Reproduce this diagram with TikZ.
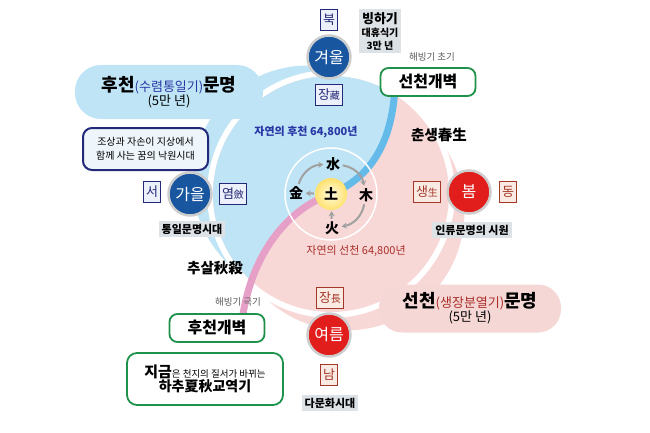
\documentclass[tikz,border=0pt]{standalone}
\usepackage{fontspec}
\setmainfont{Noto Sans CJK KR}
\usepackage{tikz}
\usetikzlibrary{arrows.meta}
\usepackage{xcolor}

\definecolor{skyfill}{RGB}{191,228,245}
\definecolor{rosefill}{RGB}{247,216,214}
\definecolor{skyline}{RGB}{100,186,232}
\definecolor{roseline}{RGB}{230,160,200}
\definecolor{seablue}{RGB}{24,86,160}
\definecolor{fired}{RGB}{226,30,28}
\definecolor{navy}{RGB}{35,40,120}
\definecolor{textblue}{RGB}{40,55,165}
\definecolor{textred}{RGB}{170,45,40}
\definecolor{boxred}{RGB}{165,55,40}
\definecolor{dirbg}{RGB}{236,240,250}
\definecolor{redbg}{RGB}{250,234,228}
\definecolor{labgray}{RGB}{221,226,231}
\definecolor{frgreen}{RGB}{30,145,75}
\definecolor{rosebox}{RGB}{245,216,214}
\definecolor{paleblue}{RGB}{238,246,252}
\definecolor{ringgray}{RGB}{205,205,205}
\definecolor{cycgray}{RGB}{160,160,160}
\definecolor{glowin}{RGB}{255,252,225}
\definecolor{glowout}{RGB}{255,225,110}
\definecolor{notegray}{RGB}{90,90,90}

\newcommand{\kfs}[2]{\fontsize{#1}{#2}\selectfont}

\begin{document}
\begin{tikzpicture}[x=1pt, y=1pt,
    seasonnode/.style={circle, draw=ringgray, line width=2.5pt, minimum size=43pt, inner sep=0pt, text=white, font=\kfs{16}{16}},
    dirbluebox/.style={draw=navy, fill=dirbg, text=navy, line width=0.9pt, inner sep=2.5pt, minimum height=21pt, font=\kfs{13}{13}},
    dirredbox/.style={draw=boxred, fill=redbg, text=boxred, line width=0.9pt, inner sep=2.5pt, minimum height=21pt, font=\kfs{13}{13}},
    graytag/.style={fill=labgray, inner sep=3pt, font=\bfseries\kfs{11}{13}},
    gatebox/.style={draw=frgreen, line width=1.8pt, rounded corners=8pt, fill=white, minimum width=95pt, minimum height=28pt, font=\bfseries\kfs{16}{16}},
    elemnode/.style={font=\bfseries\kfs{14}{14}, inner sep=1.5pt},
    cycarrow/.style={draw=cycgray, line width=2pt, -{Stealth[length=5pt, width=6pt]}, shorten <=1pt, shorten >=1pt},
    thawtext/.style={text=notegray, font=\kfs{9.5}{11}}]

    \useasboundingbox (0,0) rectangle (650,432);
    \coordinate (C) at (331,238);

    % Outer rings (crescents)
    \begin{scope}
        \clip (C) ++(150:27pt) circle (115pt);
        \fill[skyfill, even odd rule] (C) circle (150pt) (C) circle (124pt);
    \end{scope}
    \begin{scope}
        \clip (C) ++(310:24pt) circle (118pt);
        \fill[rosefill, even odd rule] (C) circle (150pt) (C) circle (124pt);
    \end{scope}

    % Inner disk, split by the S line
    \fill[rosefill] (C) circle (118pt);
    \begin{scope}
        \clip (C) circle (118pt);
        \fill[skyfill] (395,346) .. controls (392,282) and (365,252) .. (C)
            .. controls (295,226) and (255,188) .. (243,118)
            -- (200,0) -- (0,0) -- (0,432) -- (395,432) -- cycle;
    \end{scope}
    \draw[skyline, line width=7pt] (395,346) .. controls (392,282) and (365,252) .. (C);
    \draw[roseline, line width=7pt] (C) .. controls (295,226) and (255,188) .. (243,118);
    \draw[white, line width=1.5pt] (C) circle (46pt);

    % Seasons
    \node[seasonnode, fill=seablue] (winter) at (329,375) {겨울};
    \node[seasonnode, fill=seablue] (autumn) at (190,238) {가을};
    \node[seasonnode, fill=fired] (spring) at (469,240) {봄};
    \node[seasonnode, fill=fired] (summer) at (329,97) {여름};

    % Directions and season marks
    \node[dirbluebox] (north) at (329,412) {북};
    \node[dirbluebox] (west) at (152,240) {서};
    \node[dirredbox] (east) at (508,240) {동};
    \node[dirredbox] (south) at (329,57) {남};
    \node[dirbluebox] (store) at (329,337) {장{\kfs{10}{10}藏}};
    \node[dirbluebox] (gather) at (233,238) {염{\kfs{10}{10}斂}};
    \node[dirredbox] (birth) at (427,240) {생{\kfs{10}{10}生}};
    \node[dirredbox] (grow) at (330,134) {장{\kfs{10}{10}長}};

    % Labels, top half
    \node[graytag, align=center, inner sep=3pt, font=\bfseries\kfs{10}{13}] (ice) at (380,401) {{\kfs{13}{15}빙하기}\\대휴식기\\3만 년};
    \node[thawtext] (thawearly) at (432,375) {해빙기 초기};
    \node[gatebox] (firstgate) at (428,350) {선천개벽};
    \node[rounded corners=26pt, fill=skyfill, minimum width=188pt, minimum height=54pt, align=center] (laterciv) at (169,340)
        {{\bfseries\kfs{18}{21}후천}{\kfs{13}{15}\color{textblue}(수렴통일기)}{\bfseries\kfs{18}{21}문명}\\{\kfs{13}{15}(5만 년)}};
    \node[draw=navy, line width=2pt, rounded corners=9pt, fill=paleblue, minimum width=125pt, minimum height=42pt, align=center, font=\kfs{10}{14}] (paradise) at (145.5,283)
        {조상과 자손이 지상에서\\함께 사는 꿈의 낙원시대};
    \node[graytag] (unify) at (192,203) {통일문명시대};
    \node[text=textblue, font=\bfseries\kfs{11}{13}] (natlater) at (306,300) {자연의 후천 64,800년};
    \node[font=\bfseries\kfs{14.5}{16}] (springlife) at (439,297) {춘생春生};
    \node[graytag] (origin) at (472,202) {인류문명의 시원};

    % Labels, bottom half
    \node[text=textred, font=\kfs{11}{13}] (natfirst) at (356,181) {자연의 선천 64,800년};
    \node[font=\bfseries\kfs{14.5}{16}] (autumnkill) at (215,164) {추살秋殺};
    \node[thawtext] (thawpeak) at (238,130) {해빙기 극기};
    \node[gatebox] (latergate) at (217,104) {후천개벽};
    \node[draw=frgreen, line width=1.8pt, rounded corners=10pt, fill=white, minimum width=156pt, minimum height=52pt, align=center] (now) at (205,53)
        {{\bfseries\kfs{15}{19}지금}{\kfs{9.5}{19}은 천지의 질서가 바뀌는}\\{\bfseries\kfs{14}{17}하추夏秋교역기}};
    \node[rounded corners=23pt, fill=rosebox, minimum width=182pt, minimum height=48pt, align=center] (firstciv) at (470,123.5)
        {{\bfseries\kfs{18}{21}선천}{\kfs{13}{15}\color{textred}(생장분열기)}{\bfseries\kfs{18}{21}문명}\\{\kfs{13}{15}(5만 년)}};
    \node[graytag] (multi) at (330,29) {다문화시대};

    % Five elements
    \node[circle, minimum size=32pt, inner sep=0pt, inner color=glowin, outer color=glowout, font=\bfseries\kfs{14}{14}] (earth) at (C) {土};
    \node[elemnode] (water) at (333,268) {水};
    \node[elemnode] (metal) at (296,239) {金};
    \node[elemnode] (wood) at (366,237) {木};
    \node[elemnode] (fire) at (332,204) {火};

    \draw[cycarrow] (metal) to[bend left=35] (water);
    \draw[cycarrow] (water) to[bend left=35] (wood);
    \draw[cycarrow] (wood) to[bend left=35] (fire);
    \draw[cycarrow] (fire) -- (earth);
    \draw[cycarrow] (earth) -- (metal);

\end{tikzpicture}
\end{document}
